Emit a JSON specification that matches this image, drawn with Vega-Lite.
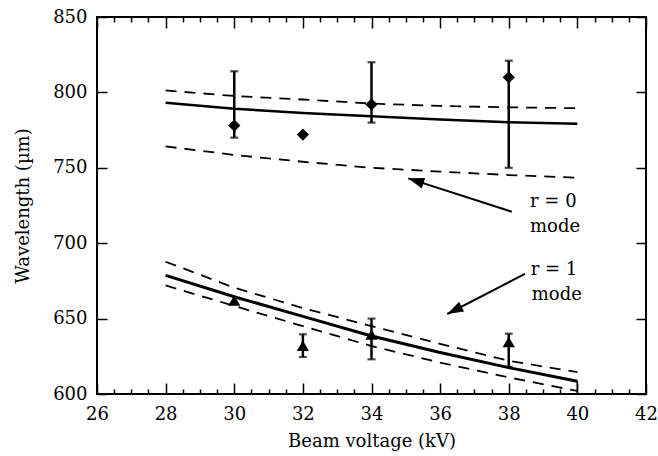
{
  "$schema": "https://vega.github.io/schema/vega-lite/v6.json",
  "width": 549,
  "height": 377,
  "autosize": {"type": "none"},
  "padding": {"left": 97, "top": 17, "right": 12, "bottom": 62},
  "background": "white",
  "config": {
    "view": {"stroke": "black", "strokeWidth": 2},
    "font": "DejaVu Serif",
    "axis": {
      "labelFont": "DejaVu Serif",
      "titleFont": "DejaVu Serif",
      "labelFontSize": 18,
      "titleFontSize": 18,
      "labelColor": "black",
      "titleColor": "black",
      "titleFontWeight": "normal",
      "ticks": true,
      "tickColor": "black",
      "tickOpacity": 1,
      "tickWidth": 1.5,
      "domain": false,
      "grid": false,
      "labelFlush": false,
      "labelOverlap": false
    }
  },
  "datasets": {
    "curves": [
      {"series": "r0 solid", "kind": "solid", "mode": "r0", "v": 28, "wl": 793.2},
      {"series": "r0 solid", "kind": "solid", "mode": "r0", "v": 30, "wl": 789.2},
      {"series": "r0 solid", "kind": "solid", "mode": "r0", "v": 32, "wl": 786.3},
      {"series": "r0 solid", "kind": "solid", "mode": "r0", "v": 34, "wl": 784.2},
      {"series": "r0 solid", "kind": "solid", "mode": "r0", "v": 36, "wl": 782.0},
      {"series": "r0 solid", "kind": "solid", "mode": "r0", "v": 38, "wl": 780.2},
      {"series": "r0 solid", "kind": "solid", "mode": "r0", "v": 40, "wl": 779.2},
      {"series": "r0 upper", "kind": "dashed", "mode": "r0", "v": 28, "wl": 801.3},
      {"series": "r0 upper", "kind": "dashed", "mode": "r0", "v": 30, "wl": 797.6},
      {"series": "r0 upper", "kind": "dashed", "mode": "r0", "v": 32, "wl": 795.3},
      {"series": "r0 upper", "kind": "dashed", "mode": "r0", "v": 34, "wl": 792.6},
      {"series": "r0 upper", "kind": "dashed", "mode": "r0", "v": 36, "wl": 791.0},
      {"series": "r0 upper", "kind": "dashed", "mode": "r0", "v": 38, "wl": 790.1},
      {"series": "r0 upper", "kind": "dashed", "mode": "r0", "v": 40, "wl": 789.5},
      {"series": "r0 lower", "kind": "dashed", "mode": "r0", "v": 28, "wl": 764.2},
      {"series": "r0 lower", "kind": "dashed", "mode": "r0", "v": 30, "wl": 758.5},
      {"series": "r0 lower", "kind": "dashed", "mode": "r0", "v": 32, "wl": 754.0},
      {"series": "r0 lower", "kind": "dashed", "mode": "r0", "v": 34, "wl": 750.0},
      {"series": "r0 lower", "kind": "dashed", "mode": "r0", "v": 36, "wl": 747.5},
      {"series": "r0 lower", "kind": "dashed", "mode": "r0", "v": 38, "wl": 745.2},
      {"series": "r0 lower", "kind": "dashed", "mode": "r0", "v": 40, "wl": 743.4},
      {"series": "r1 solid", "kind": "solid", "mode": "r1", "v": 28, "wl": 678.7},
      {"series": "r1 solid", "kind": "solid", "mode": "r1", "v": 30, "wl": 664.5},
      {"series": "r1 solid", "kind": "solid", "mode": "r1", "v": 32, "wl": 651.5},
      {"series": "r1 solid", "kind": "solid", "mode": "r1", "v": 34, "wl": 638.5},
      {"series": "r1 solid", "kind": "solid", "mode": "r1", "v": 36, "wl": 627.5},
      {"series": "r1 solid", "kind": "solid", "mode": "r1", "v": 38, "wl": 617.5},
      {"series": "r1 solid", "kind": "solid", "mode": "r1", "v": 40, "wl": 608.5},
      {"series": "r1 upper", "kind": "dashed", "mode": "r1", "v": 28, "wl": 687.7},
      {"series": "r1 upper", "kind": "dashed", "mode": "r1", "v": 30, "wl": 670.5},
      {"series": "r1 upper", "kind": "dashed", "mode": "r1", "v": 32, "wl": 657.0},
      {"series": "r1 upper", "kind": "dashed", "mode": "r1", "v": 34, "wl": 645.0},
      {"series": "r1 upper", "kind": "dashed", "mode": "r1", "v": 36, "wl": 633.3},
      {"series": "r1 upper", "kind": "dashed", "mode": "r1", "v": 38, "wl": 622.0},
      {"series": "r1 upper", "kind": "dashed", "mode": "r1", "v": 40, "wl": 614.5},
      {"series": "r1 lower", "kind": "dashed", "mode": "r1", "v": 28, "wl": 672.0},
      {"series": "r1 lower", "kind": "dashed", "mode": "r1", "v": 30, "wl": 658.4},
      {"series": "r1 lower", "kind": "dashed", "mode": "r1", "v": 32, "wl": 645.0},
      {"series": "r1 lower", "kind": "dashed", "mode": "r1", "v": 34, "wl": 631.8},
      {"series": "r1 lower", "kind": "dashed", "mode": "r1", "v": 36, "wl": 620.8},
      {"series": "r1 lower", "kind": "dashed", "mode": "r1", "v": 38, "wl": 611.0},
      {"series": "r1 lower", "kind": "dashed", "mode": "r1", "v": 40, "wl": 602.0}
    ],
    "points": [
      {"mode": "r0", "v": 30, "wl": 778},
      {"mode": "r0", "v": 32, "wl": 772},
      {"mode": "r0", "v": 34, "wl": 792},
      {"mode": "r0", "v": 38, "wl": 810},
      {"mode": "r1", "v": 30, "wl": 662},
      {"mode": "r1", "v": 32, "wl": 632},
      {"mode": "r1", "v": 34, "wl": 639.5},
      {"mode": "r1", "v": 38, "wl": 634.5}
    ],
    "errors": [
      {"mode": "r0", "v": 30, "lo": 770, "hi": 814},
      {"mode": "r0", "v": 34, "lo": 780, "hi": 820},
      {"mode": "r0", "v": 38, "lo": 750, "hi": 821},
      {"mode": "r1", "v": 32, "lo": 624.5, "hi": 639.6},
      {"mode": "r1", "v": 34, "lo": 623, "hi": 650},
      {"mode": "r1", "v": 38, "lo": 618, "hi": 640}
    ],
    "drop": [
      {"v": 40, "lo": 600, "hi": 608.5}
    ],
    "arrows": [
      {"arrow": "r0", "x1": 38.09, "y1": 720.9, "x2": 35.07, "y2": 743.0},
      {"arrow": "r1", "x1": 38.47, "y1": 679.6, "x2": 36.21, "y2": 653.05}
    ],
    "labels": [
      {"text": "r = 0", "v": 38.62, "wl": 724.2},
      {"text": "mode", "v": 38.62, "wl": 707.4},
      {"text": "r = 1", "v": 38.64, "wl": 678.9},
      {"text": "mode", "v": 38.67, "wl": 662.3}
    ]
  },
  "layer": [
    {
      "data": {"name": "curves"},
      "transform": [{"filter": "datum.kind === 'dashed'"}],
      "mark": {"type": "line", "color": "black", "strokeWidth": 1.8, "strokeDash": [11, 8]},
      "encoding": {
        "x": {
          "field": "v", "type": "quantitative",
          "scale": {"domain": [26, 42], "nice": false, "zero": false},
          "axis": {
            "orient": "bottom",
            "values": [26, 26.5, 27, 27.5, 28, 28.5, 29, 29.5, 30, 30.5, 31, 31.5, 32, 32.5, 33, 33.5, 34, 34.5, 35, 35.5, 36, 36.5, 37, 37.5, 38, 38.5, 39, 39.5, 40, 40.5, 41, 41.5, 42],
            "labelExpr": "datum.value % 2 === 0 ? format(datum.value, 'd') : ''",
            "tickSize": {"condition": {"test": "datum.value % 2 === 0", "value": -11}, "value": -5},
            "labelPadding": 22,
            "title": "Beam voltage (kV)",
            "titlePadding": 3
          }
        },
        "y": {
          "field": "wl", "type": "quantitative",
          "scale": {"domain": [600, 850], "nice": false, "zero": false},
          "axis": {
            "orient": "left",
            "values": [600, 650, 700, 750, 800, 850],
            "tickSize": -10,
            "labelPadding": 20,
            "title": "Wavelength (µm)",
            "titlePadding": 20
          }
        },
        "detail": {"field": "series"}
      }
    },
    {
      "data": {"name": "curves"},
      "transform": [{"filter": "datum.series === 'r0 solid'"}],
      "mark": {"type": "line", "color": "black", "strokeWidth": 2.5},
      "encoding": {
        "x": {"field": "v", "type": "quantitative", "axis": null},
        "y": {"field": "wl", "type": "quantitative", "axis": null}
      }
    },
    {
      "data": {"name": "curves"},
      "transform": [{"filter": "datum.series === 'r1 solid'"}],
      "mark": {"type": "line", "color": "black", "strokeWidth": 3},
      "encoding": {
        "x": {"field": "v", "type": "quantitative", "axis": null},
        "y": {"field": "wl", "type": "quantitative", "axis": null}
      }
    },
    {
      "data": {"name": "drop"},
      "mark": {"type": "rule", "color": "black", "strokeWidth": 1.5},
      "encoding": {
        "x": {"field": "v", "type": "quantitative", "axis": null},
        "y": {"field": "lo", "type": "quantitative", "axis": null},
        "y2": {"field": "hi"}
      }
    },
    {
      "data": {"name": "errors"},
      "mark": {"type": "rule", "color": "black", "strokeWidth": 2.5},
      "encoding": {
        "x": {"field": "v", "type": "quantitative", "axis": null},
        "y": {"field": "lo", "type": "quantitative", "axis": null},
        "y2": {"field": "hi"}
      }
    },
    {
      "data": {"name": "errors"},
      "mark": {"type": "tick", "color": "black", "orient": "horizontal", "size": 8, "thickness": 2.2},
      "encoding": {
        "x": {"field": "v", "type": "quantitative", "axis": null},
        "y": {"field": "hi", "type": "quantitative", "axis": null}
      }
    },
    {
      "data": {"name": "errors"},
      "mark": {"type": "tick", "color": "black", "orient": "horizontal", "size": 8, "thickness": 2.2},
      "encoding": {
        "x": {"field": "v", "type": "quantitative", "axis": null},
        "y": {"field": "lo", "type": "quantitative", "axis": null}
      }
    },
    {
      "data": {"name": "points"},
      "mark": {"type": "point", "filled": true, "color": "black", "opacity": 1, "size": 150},
      "encoding": {
        "x": {
          "field": "v", "type": "quantitative",
          "axis": {
            "orient": "top",
            "values": [26, 26.5, 27, 27.5, 28, 28.5, 29, 29.5, 30, 30.5, 31, 31.5, 32, 32.5, 33, 33.5, 34, 34.5, 35, 35.5, 36, 36.5, 37, 37.5, 38, 38.5, 39, 39.5, 40, 40.5, 41, 41.5, 42],
            "labels": false,
            "tickSize": {"condition": {"test": "datum.value % 2 === 0", "value": -11}, "value": -5},
            "title": null
          }
        },
        "y": {
          "field": "wl", "type": "quantitative",
          "axis": {
            "orient": "right",
            "values": [600, 650, 700, 750, 800, 850],
            "labels": false,
            "tickSize": -10,
            "title": null
          }
        },
        "shape": {
          "field": "mode", "type": "nominal",
          "scale": {"domain": ["r0", "r1"], "range": ["diamond", "triangle-up"]},
          "legend": null
        }
      }
    },
    {
      "data": {"name": "arrows"},
      "mark": {"type": "rule", "color": "black", "strokeWidth": 2},
      "encoding": {
        "x": {"field": "x1", "type": "quantitative", "axis": null},
        "y": {"field": "y1", "type": "quantitative", "axis": null},
        "x2": {"field": "x2"},
        "y2": {"field": "y2"}
      }
    },
    {
      "data": {"name": "arrows"},
      "transform": [{"filter": "datum.arrow === 'r0'"}],
      "mark": {"type": "point", "filled": true, "color": "black", "opacity": 1, "size": 400, "shape": "M0,0L0.55,1.6L-0.55,1.6Z", "angle": 287.9},
      "encoding": {
        "x": {"field": "x2", "type": "quantitative", "axis": null},
        "y": {"field": "y2", "type": "quantitative", "axis": null}
      }
    },
    {
      "data": {"name": "arrows"},
      "transform": [{"filter": "datum.arrow === 'r1'"}],
      "mark": {"type": "point", "filled": true, "color": "black", "opacity": 1, "size": 400, "shape": "M0,0L0.55,1.6L-0.55,1.6Z", "angle": 242.8},
      "encoding": {
        "x": {"field": "x2", "type": "quantitative", "axis": null},
        "y": {"field": "y2", "type": "quantitative", "axis": null}
      }
    },
    {
      "data": {"name": "labels"},
      "mark": {"type": "text", "align": "left", "baseline": "alphabetic", "font": "DejaVu Serif", "fontSize": 18, "color": "black"},
      "encoding": {
        "x": {"field": "v", "type": "quantitative", "axis": null},
        "y": {"field": "wl", "type": "quantitative", "axis": null},
        "text": {"field": "text"}
      }
    }
  ]
}
